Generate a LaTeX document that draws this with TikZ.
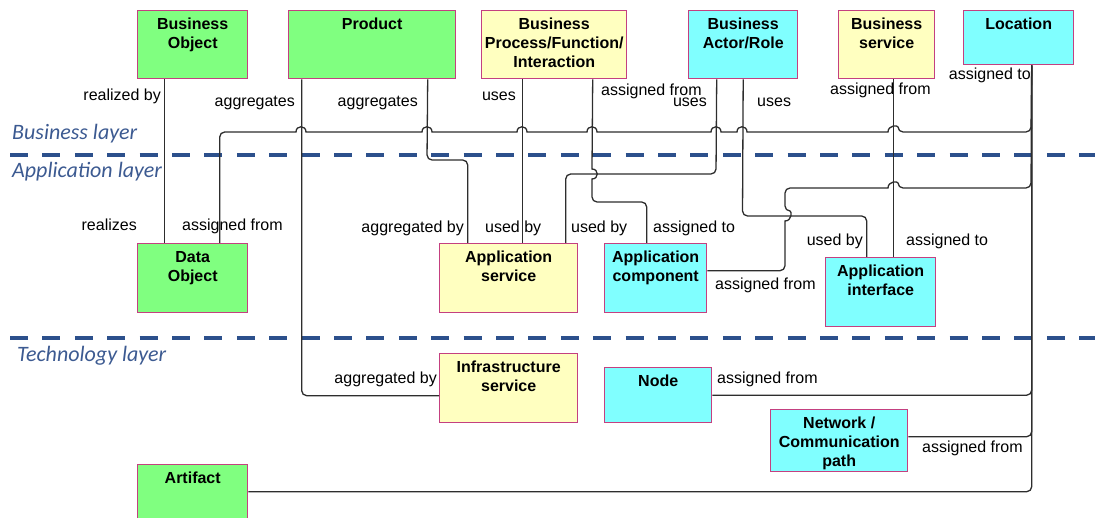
\documentclass[tikz,border=0pt]{standalone}
\usepackage{fontspec}
\setmainfont{Liberation Sans}
\newfontfamily\layerfont{Carlito}
\definecolor{gfill}{RGB}{128,255,128}
\definecolor{yfill}{RGB}{255,255,192}
\definecolor{cfill}{RGB}{128,255,255}
\definecolor{bord}{RGB}{196,64,128}
\definecolor{linec}{RGB}{45,45,45}
\definecolor{sepc}{RGB}{44,80,140}
\definecolor{layerc}{RGB}{60,90,145}
\tikzset{
  box/.style={draw=bord, line width=1.4pt, anchor=north west, inner sep=0pt, minimum width=#1},
  gbox/.style={box=#1, fill=gfill},
  ybox/.style={box=#1, fill=yfill},
  cbox/.style={box=#1, fill=cfill},
  ttl/.style={font=\bfseries\fontsize{16}{19}\selectfont, align=center, anchor=north, inner sep=0pt},
  lbl/.style={font=\fontsize{16}{19}\selectfont, inner sep=0pt},
  layer/.style={font=\layerfont\itshape\fontsize{22}{26}\selectfont, text=layerc, anchor=base west, inner sep=0pt},
  conn/.style={draw=linec, line width=1.3pt},
  sep/.style={draw=sepc, line width=4pt, dash pattern=on 18pt off 14.4pt}
}
\begin{document}
\begin{tikzpicture}[x=1pt,y=-1pt]
\useasboundingbox (0,0) rectangle (1095,518);
% separators
\draw[sep] (10,155) -- (1100,155);
\draw[sep] (10,338) -- (1100,338);
\node[layer] (lb) at (12,140) {Business layer};
\node[layer] (la) at (12,178) {Application layer};
\node[layer] (lt) at (17,362) {Technology layer};
% boxes
\node[gbox=110pt, minimum height=68pt] (bo) at (137,10) {};
\node[gbox=167pt, minimum height=68pt] (prod) at (288,10) {};
\node[ybox=145pt, minimum height=68pt] (bp) at (481,10) {};
\node[cbox=109pt, minimum height=68pt] (act) at (688,10) {};
\node[ybox=96pt, minimum height=68pt] (bs) at (838,10) {};
\node[cbox=110pt, minimum height=54pt] (loc) at (963,10) {};
\node[gbox=110pt, minimum height=69pt] (do) at (137,243) {};
\node[ybox=138pt, minimum height=69pt] (as) at (439,243) {};
\node[cbox=102pt, minimum height=69pt] (ac) at (604,243) {};
\node[cbox=110pt, minimum height=69pt] (ai) at (825,257) {};
\node[ybox=138pt, minimum height=69pt] (is) at (439,353) {};
\node[cbox=107pt, minimum height=55pt] (nd) at (604,367) {};
\node[cbox=137pt, minimum height=62pt] (nw) at (770,409) {};
\node[gbox=110pt, minimum height=68pt] (art) at (137,464) {};
% titles
\node[ttl] (bot) at ([yshift=-8pt]bo.north) {Business\\Object};
\node[ttl] (prodt) at ([yshift=-8pt]prod.north) {Product};
\node[ttl] (bpt) at ([yshift=-8pt]bp.north) {Business\\Process/Function/\\Interaction};
\node[ttl] (actt) at ([yshift=-8pt]act.north) {Business\\Actor/Role};
\node[ttl] (bst) at ([yshift=-8pt]bs.north) {Business\\service};
\node[ttl] (loct) at ([yshift=-8pt]loc.north) {Location};
\node[ttl] (dot) at ([yshift=-8pt]do.north) {Data\\Object};
\node[ttl] (ast) at ([yshift=-8pt]as.north) {Application\\service};
\node[ttl] (act2) at ([yshift=-8pt]ac.north) {Application\\component};
\node[ttl] (ait) at ([yshift=-8pt]ai.north) {Application\\interface};
\node[ttl] (ist) at ([yshift=-8pt]is.north) {Infrastructure\\service};
\node[ttl] (ndt) at ([yshift=-8pt]nd.north) {Node};
\node[ttl] (nwt) at ([yshift=-8pt]nw.north) {Network /\\Communication\\path};
\node[ttl] (artt) at ([yshift=-8pt]art.north) {Artifact};
% connectors
\draw[conn] ([xshift=-28pt]bo.south) -- ([xshift=-28pt]do.north);
\draw[conn] ([xshift=-70.5pt]prod.south) [rounded corners=5pt] |- ([yshift=-7.5pt]is.west);
\draw[conn] ([xshift=55.5pt]prod.south) [rounded corners=5pt] -- (427,160) -| ([xshift=-41pt]as.north);
\draw[conn] ([xshift=-31.5pt]bp.south) -- ([xshift=14pt]as.north);
\draw[conn] ([xshift=38.5pt]bp.south) -- (592,169) [sharp corners]
  .. controls (599,169) and (599,179) .. (592,179) -- (592,180)
  [rounded corners=5pt] -- (592,202) -| ([xshift=-9pt]ac.north);
\draw[conn] ([xshift=-26.5pt]act.south) [rounded corners=5pt] -- (716,174) -| ([xshift=57pt]as.north);
\draw[conn] (act.south) [rounded corners=5pt] -- (742.5,216) -| ([xshift=-14pt]ai.north);
\draw[conn] ([xshift=7pt]bs.south) -- ([xshift=13pt]ai.north);
% location branches
\draw[conn] ([xshift=13pt]loc.south) [rounded corners=5pt] -- (1031,132) -- (898,132) [sharp corners]
  .. controls (898,125) and (888,125) .. (888,132) -- (747,132)
  .. controls (747,125) and (737,125) .. (737,132) -- (721,132)
  .. controls (721,125) and (711,125) .. (711,132) -- (597,132)
  .. controls (597,125) and (587,125) .. (587,132) -- (527,132)
  .. controls (527,125) and (517,125) .. (517,132) -- (432,132)
  .. controls (432,125) and (422,125) .. (422,132) -- (306,132)
  .. controls (306,125) and (296,125) .. (296,132) -- (295,132)
  [rounded corners=5pt] -| ([xshift=27pt]do.north);
\draw[conn] ([xshift=13pt]loc.south) [rounded corners=5pt] -- (1031,188) -- (898,188) [sharp corners]
  .. controls (898,181) and (888,181) .. (888,188) -- (887,188)
  [rounded corners=5pt] -- (785,188) -- (785,211) [sharp corners]
  .. controls (792,211) and (792,221) .. (785,221) -- (785,222)
  [rounded corners=5pt] |- ([yshift=7.5pt]ac.east);
\draw[conn] ([xshift=13pt]loc.south) [rounded corners=5pt] |- (nd.east);
\draw[conn] ([xshift=13pt]loc.south) [rounded corners=5pt] |- ([yshift=4pt]nw.east);
\draw[conn] ([xshift=13pt]loc.south) [rounded corners=5pt] |- ([yshift=7pt]art.east);
% labels
\node[lbl, anchor=base east] (l1) at (161,101) {realized by};
\node[lbl, anchor=base east] (l2) at (295,107) {aggregates};
\node[lbl, anchor=base east] (l3) at (418,107) {aggregates};
\node[lbl, anchor=base east] (l4) at (516,101) {uses};
\node[lbl, anchor=base west] (l5) at (601,96) {assigned from};
\node[lbl, anchor=base east] (l6) at (707,107) {uses};
\node[lbl, anchor=base west] (l7) at (757,107) {uses};
\node[lbl, anchor=base west] (l8) at (830,95) {assigned from};
\node[lbl, anchor=base east] (l9) at (1031,80) {assigned to};
\node[lbl, anchor=base east] (l10) at (137,231) {realizes};
\node[lbl, anchor=base west] (l11) at (182,231) {assigned from};
\node[lbl, anchor=base east] (l12) at (464,233) {aggregated by};
\node[lbl, anchor=base west] (l13) at (485,233) {used by};
\node[lbl, anchor=base west] (l14) at (571,233) {used by};
\node[lbl, anchor=base west] (l15) at (653,233) {assigned to};
\node[lbl, anchor=base east] (l16) at (863,246) {used by};
\node[lbl, anchor=base west] (l17) at (906,246) {assigned to};
\node[lbl, anchor=base west] (l18) at (715,290) {assigned from};
\node[lbl, anchor=base east] (l19) at (437,384) {aggregated by};
\node[lbl, anchor=base west] (l20) at (717,384) {assigned from};
\node[lbl, anchor=base west] (l21) at (922,452) {assigned from};
\end{tikzpicture}
\end{document}
